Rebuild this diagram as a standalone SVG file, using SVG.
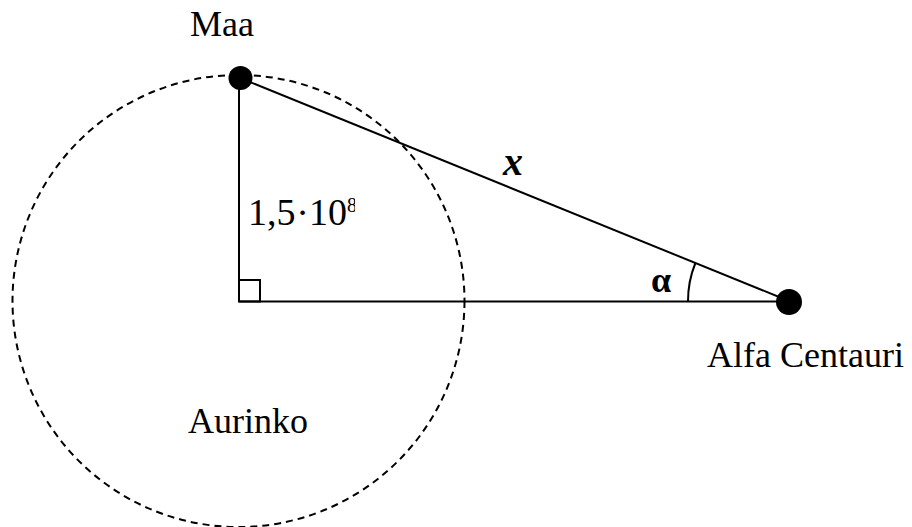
<svg xmlns="http://www.w3.org/2000/svg" width="912" height="527" viewBox="0 0 912 527">
<style>
.ln{stroke:#000;stroke-width:2;fill:none}
.dash{stroke:#000;stroke-width:2;fill:none;stroke-dasharray:7 5}
.t{font-family:"Liberation Serif","Times New Roman",serif;font-size:36px;fill:#000}
.dot{fill:#000}
</style>
<defs>
<clipPath id="supclip"><rect x="340" y="190" width="15" height="30"/></clipPath>
</defs>
<rect width="912" height="527" fill="#fff"/>
<g id="aurinko">
<circle class="dash" cx="238.5" cy="301" r="226"/>
<text class="t" x="188" y="433">Aurinko</text>
</g>
<g id="connectors">
<line class="ln" x1="239" y1="78" x2="239" y2="301.5"/>
<line class="ln" x1="239" y1="301.5" x2="789" y2="301.5"/>
<line class="ln" x1="240" y1="78" x2="789" y2="301"/>
<rect class="ln" x="239" y="280" width="21" height="21.5"/>
<path class="ln" d="M688 301.5 A101 101 0 0 1 695.4 263"/>
</g>
<g id="maa">
<circle class="dot" cx="240.5" cy="78" r="12"/>
<text class="t" x="190" y="36">Maa</text>
</g>
<g id="alfa">
<circle class="dot" cx="789" cy="302" r="13"/>
<text class="t" x="707" y="367">Alfa Centauri</text>
</g>
<g id="labels">
<text class="t" style="font-size:38px" x="248" y="225">1,5</text>
<text class="t" style="font-size:38px" x="302.5" y="225" text-anchor="middle">·</text>
<text class="t" style="font-size:38px" x="309" y="225">10</text>
<text class="t" style="font-size:20px" x="347" y="212" clip-path="url(#supclip)">8</text>
<text class="t" style="font-size:40px;font-weight:bold;font-style:italic" x="503" y="175">x</text>
<text class="t" style="font-size:36px;font-weight:bold" x="651" y="292">α</text>
</g>
</svg>
